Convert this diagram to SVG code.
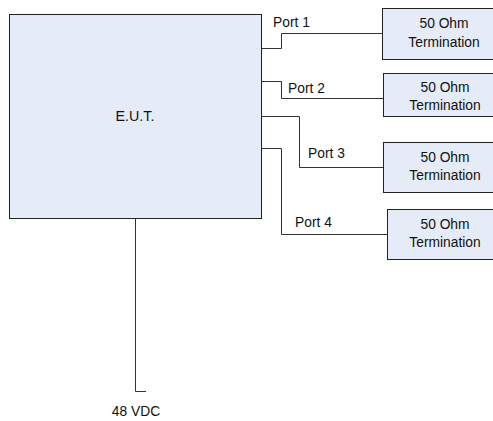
<svg xmlns="http://www.w3.org/2000/svg" width="493" height="421" viewBox="0 0 493 421">
<style>
.box{fill:#e6ecf7;stroke:#222;stroke-width:1}
.w{fill:none;stroke:#333;stroke-width:1}
text{font-family:"Liberation Sans",Arial,sans-serif;font-size:13.8px;fill:#111}
.c{text-anchor:middle}
</style>
<rect width="493" height="421" fill="#fff"/>
<g id="connectors">
<polyline class="w" points="261.5,48.5 281.5,48.5 281.5,33.5 382,33.5"/>
<polyline class="w" points="261.5,81.5 281.5,81.5 281.5,98.5 383,98.5"/>
<polyline class="w" points="261.5,116.5 299.5,116.5 299.5,167.5 383,167.5"/>
<polyline class="w" points="261.5,148.5 281.5,148.5 281.5,234.5 387,234.5"/>
<polyline class="w" points="135.5,218 135.5,391.5 146,391.5"/>
<text x="273" y="27">Port 1</text>
<text x="288" y="93">Port 2</text>
<text x="308" y="158">Port 3</text>
<text x="295" y="227">Port 4</text>
<text class="c" x="136" y="416">48 VDC</text>
</g>
<g id="eut">
<rect class="box" x="9.5" y="14.5" width="252" height="204"/>
<text class="c" x="135" y="121" style="font-size:14.3px">E.U.T.</text>
</g>
<g id="term1">
<rect class="box" x="382.5" y="8.5" width="124" height="51"/>
<text class="c" x="444" y="28">50 Ohm</text>
<text class="c" x="444" y="47">Termination</text>
</g>
<g id="term2">
<rect class="box" x="383.5" y="73.5" width="124" height="43"/>
<text class="c" x="445" y="92">50 Ohm</text>
<text class="c" x="445" y="110">Termination</text>
</g>
<g id="term3">
<rect class="box" x="383.5" y="142.5" width="124" height="50"/>
<text class="c" x="445" y="162">50 Ohm</text>
<text class="c" x="445" y="180">Termination</text>
</g>
<g id="term4">
<rect class="box" x="387.5" y="209.5" width="124" height="50"/>
<text class="c" x="445" y="229">50 Ohm</text>
<text class="c" x="445" y="247">Termination</text>
</g>
</svg>
